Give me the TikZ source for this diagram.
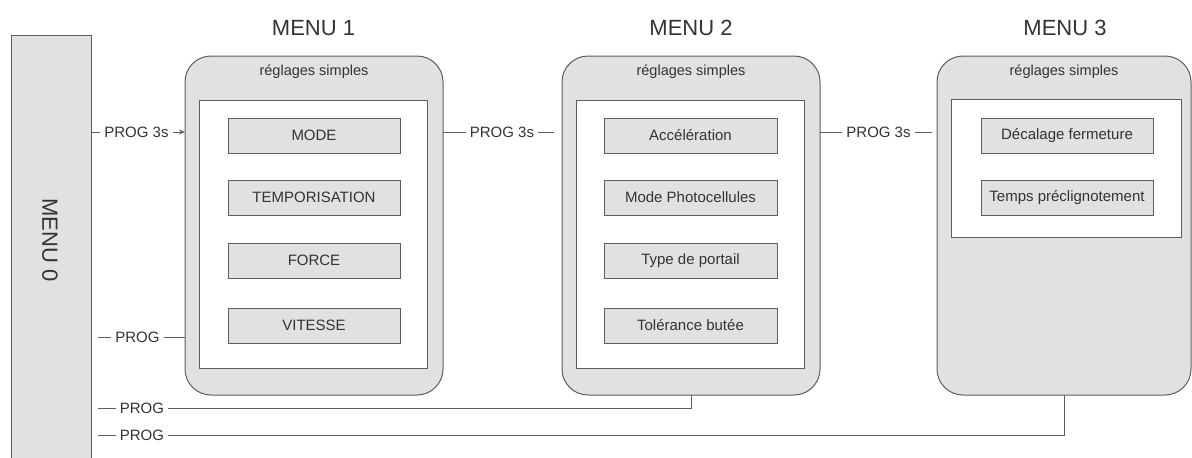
\documentclass[tikz,border=0pt]{standalone}
\usepackage{fontspec}
\setmainfont{Liberation Sans}
\usetikzlibrary{arrows.meta}
\definecolor{boxgray}{HTML}{E0E1E3}
\definecolor{linegray}{HTML}{5E5E5E}
\definecolor{txt}{HTML}{333333}
\tikzset{
  outerbox/.style={draw=linegray, fill=boxgray, rounded corners=26pt, line width=1pt, inner sep=0pt, outer sep=0pt},
  innerbox/.style={draw=linegray, fill=white, line width=1pt, inner sep=0pt, outer sep=0pt},
  itembox/.style={draw=linegray, fill=boxgray, line width=1pt, minimum width=172pt, minimum height=35pt, inner sep=0pt, outer sep=0pt, font=\fontsize{15}{18}\selectfont, text=txt},
  lbl/.style={font=\fontsize{15}{18}\selectfont, text=txt, inner xsep=4pt, inner ysep=0pt, outer sep=0pt},
  sublbl/.style={font=\fontsize{14.5}{18}\selectfont, text=txt, inner sep=0pt, anchor=base},
  titlelbl/.style={font=\fontsize{22}{26}\selectfont, text=txt, inner sep=0pt, anchor=base},
  conn/.style={draw=linegray, line width=1pt},
  arrowconn/.style={conn, -{Stealth[length=6pt,width=5pt]}}
}
\begin{document}
\begin{tikzpicture}[x=1pt,y=-1pt]
\useasboundingbox (0,0) rectangle (1192,458);
\clip (0,0) rectangle (1192,458);
\fill[white] (0,0) rectangle (1192,458);

% MENU 0
\node[draw=linegray, fill=boxgray, line width=1pt, minimum width=80pt, minimum height=440pt, inner sep=0pt, outer sep=0pt] (m0) at (51,255) {};
\node[font=\fontsize{22}{26}\selectfont, text=txt, rotate=-90] (m0t) at (50,240) {MENU 0};

% titles
\node[titlelbl] (t1) at (313.5,35) {MENU 1};
\node[titlelbl] (t2) at (691,35) {MENU 2};
\node[titlelbl] (t3) at (1065,35) {MENU 3};

% MENU 1
\node[outerbox, minimum width=258pt, minimum height=339pt] (m1) at (314,225.5) {};
\node[sublbl] (s1) at (314,75) {réglages simples};
\node[innerbox, minimum width=228pt, minimum height=268pt] (i1) at (313,234) {};
\node[itembox] (a1) at (314,135.5) {MODE};
\node[itembox] (a2) at (314,197.5) {TEMPORISATION};
\node[itembox] (a3) at (314,260.5) {FORCE};
\node[itembox] (a4) at (314,325.5) {VITESSE};

% MENU 2
\node[outerbox, minimum width=258pt, minimum height=339pt] (m2) at (691,225.5) {};
\node[sublbl] (s2) at (691,75) {réglages simples};
\node[innerbox, minimum width=228pt, minimum height=268pt] (i2) at (690,234) {};
\node[itembox, minimum width=173pt] (b1) at (690.5,135.5) {Accélération};
\node[itembox, minimum width=173pt] (b2) at (690.5,197.5) {Mode Photocellules};
\node[itembox, minimum width=173pt] (b3) at (690.5,260.5) {Type de portail};
\node[itembox, minimum width=173pt] (b4) at (690.5,325.5) {Tolérance butée};

% MENU 3
\node[outerbox, minimum width=254pt, minimum height=339pt] (m3) at (1064,225.5) {};
\node[sublbl] (s3) at (1064,75) {réglages simples};
\node[innerbox, minimum width=230pt, minimum height=138pt] (i3) at (1066,168) {};
\node[itembox] (c1) at (1067,135.5) {Décalage fermeture};
\node[itembox] (c2) at (1067,197.5) {Temps préclignotement};

% labels
\node[lbl] (p1) at (136.5,132) {PROG 3s};
\node[lbl] (p2) at (502,132) {PROG 3s};
\node[lbl] (p3) at (878.5,132) {PROG 3s};
\node[lbl] (p4) at (137.5,337) {PROG};
\node[lbl] (p5) at (142,408) {PROG};
\node[lbl] (p6) at (142,435) {PROG};

\coordinate (e2) at (554,132);
\coordinate (e3) at (932,132);
\coordinate (d4) at (98,337);
\coordinate (d5) at (98,408);
\coordinate (d6) at (98,435);

% connectors
\draw[conn] (p1.west -| m0.east) -- (p1.west);
\draw[arrowconn] (p1.east) -- (p1.east -| m1.west);
\draw[conn] (p2.west -| m1.east) -- (p2.west);
\draw[conn] (p2.east) -- (e2);
\draw[conn] (p3.west -| m2.east) -- (p3.west);
\draw[conn] (p3.east) -- (e3);
\draw[conn] (d4) -- (p4.west);
\draw[conn] (p4.east) -- (p4.east -| m1.west);
\draw[conn] (d5) -- (p5.west);
\draw[conn] (p5.east) -| (m2.south);
\draw[conn] (d6) -- (p6.west);
\draw[conn] (p6.east) -| (m3.south);
\end{tikzpicture}
\end{document}
